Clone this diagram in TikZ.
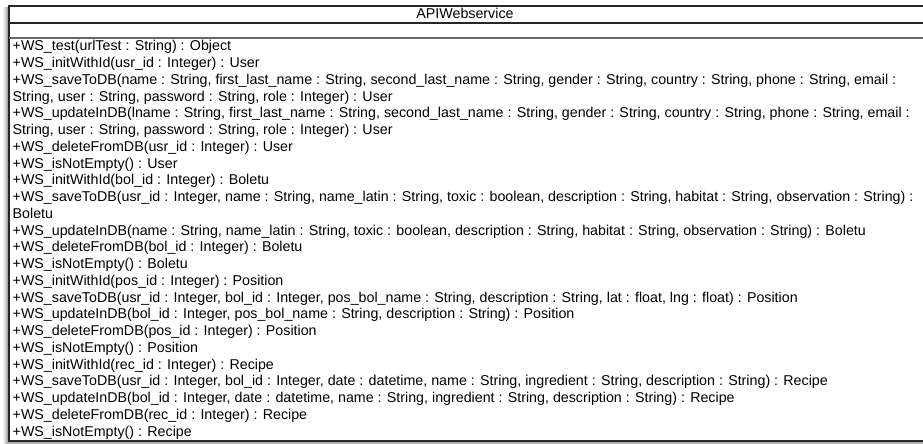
\documentclass[tikz,border=0pt]{standalone}
\usepackage{fontspec}
\setmainfont{Liberation Sans}
\begin{document}
\begin{tikzpicture}[x=1pt,y=-1pt,
  op/.style={anchor=base west,inner sep=0pt,font=\fontsize{14.25}{16}\selectfont},
  ttl/.style={anchor=base,inner sep=0pt,font=\fontsize{14.25}{16}\selectfont},
  frame/.style={draw=black!85,line width=1.2pt},
  sep/.style={draw=black!60,line width=1.6pt}]
\useasboundingbox (0,0) rectangle (923,444);
% shadow
\foreach \d/\o in {6/0.05,5/0.06,4/0.08,3/0.1,2/0.12}{
  \fill[black,opacity=\o] (9-\d,6+1) rectangle (930,441+\d);
}
\fill[white] (9,6) rectangle (930,441);
% box and compartments
\draw[frame] (930,6) -- (9,6) -- (9,441) -- (930,441);
\draw[frame] (9,23) -- (930,23);
\draw[sep] (9,38) -- (930,38);
\node[ttl] (title) at (465,19) {APIWebservice};
\def\lh{16.74}
\node[op] (l1) at (12.5,51) {+WS\_test(urlTest : String) : Object};
\node[op] (l2) at (12.5,51+1*\lh) {+WS\_initWithId(usr\_id : Integer) : User};
\node[op] (l3) at (12.5,51+2*\lh) {+WS\_saveToDB(name : String, first\_last\_name : String, second\_last\_name : String, gender : String, country : String, phone : String, email :};
\node[op] (l4) at (12.5,51+3*\lh) {String, user : String, password : String, role : Integer) : User};
\node[op] (l5) at (12.5,51+4*\lh) {+WS\_updateInDB(lname : String, first\_last\_name : String, second\_last\_name : String, gender : String, country : String, phone : String, email :};
\node[op] (l6) at (12.5,51+5*\lh) {String, user : String, password : String, role : Integer) : User};
\node[op] (l7) at (12.5,51+6*\lh) {+WS\_deleteFromDB(usr\_id : Integer) : User};
\node[op] (l8) at (12.5,51+7*\lh) {+WS\_isNotEmpty() : User};
\node[op] (l9) at (12.5,51+8*\lh) {+WS\_initWithId(bol\_id : Integer) : Boletu};
\node[op] (l10) at (12.5,51+9*\lh) {+WS\_saveToDB(usr\_id : Integer, name : String, name\_latin : String, toxic : boolean, description : String, habitat : String, observation : String) :};
\node[op] (l11) at (12.5,51+10*\lh) {Boletu};
\node[op] (l12) at (12.5,51+11*\lh) {+WS\_updateInDB(name : String, name\_latin : String, toxic : boolean, description : String, habitat : String, observation : String) : Boletu};
\node[op] (l13) at (12.5,51+12*\lh) {+WS\_deleteFromDB(bol\_id : Integer) : Boletu};
\node[op] (l14) at (12.5,51+13*\lh) {+WS\_isNotEmpty() : Boletu};
\node[op] (l15) at (12.5,51+14*\lh) {+WS\_initWithId(pos\_id : Integer) : Position};
\node[op] (l16) at (12.5,51+15*\lh) {+WS\_saveToDB(usr\_id : Integer, bol\_id : Integer, pos\_bol\_name : String, description : String, lat : float, lng : float) : Position};
\node[op] (l17) at (12.5,51+16*\lh) {+WS\_updateInDB(bol\_id : Integer, pos\_bol\_name : String, description : String) : Position};
\node[op] (l18) at (12.5,51+17*\lh) {+WS\_deleteFromDB(pos\_id : Integer) : Position};
\node[op] (l19) at (12.5,51+18*\lh) {+WS\_isNotEmpty() : Position};
\node[op] (l20) at (12.5,51+19*\lh) {+WS\_initWithId(rec\_id : Integer) : Recipe};
\node[op] (l21) at (12.5,51+20*\lh) {+WS\_saveToDB(usr\_id : Integer, bol\_id : Integer, date : datetime, name : String, ingredient : String, description : String) : Recipe};
\node[op] (l22) at (12.5,51+21*\lh) {+WS\_updateInDB(bol\_id : Integer, date : datetime, name : String, ingredient : String, description : String) : Recipe};
\node[op] (l23) at (12.5,51+22*\lh) {+WS\_deleteFromDB(rec\_id : Integer) : Recipe};
\node[op] (l24) at (12.5,51+23*\lh) {+WS\_isNotEmpty() : Recipe};
\end{tikzpicture}
\end{document}
